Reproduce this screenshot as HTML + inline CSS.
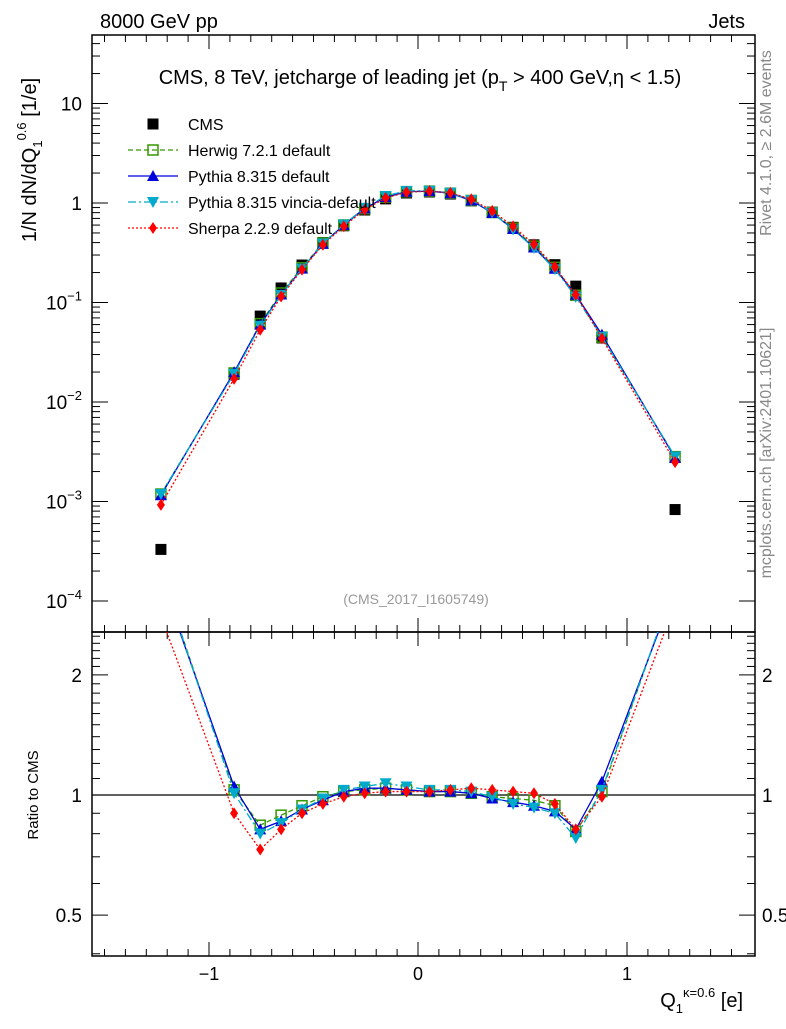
<!DOCTYPE html>
<html><head><meta charset="utf-8"><style>
body{margin:0;background:#fff;}
svg{font-family:"Liberation Sans","DejaVu Sans",sans-serif;}
</style></head><body>
<svg id="c" width="786" height="1024" xmlns="http://www.w3.org/2000/svg">
<text x="100" y="28" font-size="20">8000 GeV pp</text>
<text x="745" y="28" font-size="20" text-anchor="end">Jets</text>
<rect x="92" y="35" width="663" height="597" fill="none" stroke="#000" stroke-width="1.5"/>
<rect x="92" y="632" width="663" height="324" fill="none" stroke="#000" stroke-width="1.5"/>
<text x="420" y="84" font-size="20" text-anchor="middle">CMS, 8 TeV, jetcharge of leading jet (p<tspan font-size="14" dy="7">T</tspan><tspan dy="-7"> &gt; 400 GeV,η &lt; 1.5)</tspan></text>
<text x="416" y="604" font-size="14" fill="#999" text-anchor="middle">(CMS_2017_I1605749)</text>
<text transform="translate(771,143) rotate(-90)" font-size="16" fill="#888" text-anchor="middle">Rivet 4.1.0, ≥ 2.6M events</text>
<text transform="translate(771,453) rotate(-90)" font-size="16" fill="#888" text-anchor="middle">mcplots.cern.ch [arXiv:2401.10621]</text>
<text transform="translate(36,160) rotate(-90)" font-size="20" text-anchor="middle">1/N dN/dQ<tspan font-size="13" dy="6">1</tspan><tspan font-size="13" dy="-16">0.6</tspan><tspan dy="10"> [1/e]</tspan></text>
<text transform="translate(38,795) rotate(-90)" font-size="15" text-anchor="middle">Ratio to CMS</text>
<text x="743" y="1007" font-size="20" text-anchor="end">Q<tspan font-size="13" dy="6">1</tspan><tspan font-size="13" dy="-16">κ=0.6</tspan><tspan dy="10"> [e]</tspan></text>
<g id="ax"></g><g id="marks"></g><g id="leg"></g>
</svg>
<script>
const xs=[-1.23,-0.88,-0.755,-0.655,-0.555,-0.455,-0.355,-0.255,-0.155,-0.055,0.055,0.155,0.255,0.355,0.455,0.555,0.655,0.755,0.88,1.23];
const cms=[3.3e-4,0.0190,0.073,0.14,0.238,0.40,0.59,0.85,1.10,1.26,1.29,1.23,1.05,0.81,0.57,0.38,0.24,0.146,0.044,8.3e-4];
const rHerwig=[3.6,1.03,0.84,0.89,0.94,0.99,1.02,1.03,1.04,1.03,1.02,1.02,1.01,0.99,0.98,0.97,0.94,0.81,1.02,3.4];
const rPythia=[3.5,1.05,0.82,0.86,0.92,0.97,1.02,1.04,1.04,1.03,1.02,1.02,1.01,0.98,0.96,0.94,0.91,0.82,1.08,3.3];
const rVincia=[3.6,1.01,0.80,0.85,0.92,0.98,1.03,1.05,1.07,1.05,1.03,1.03,1.02,0.99,0.95,0.93,0.90,0.78,1.03,3.4];
const rSherpa=[2.8,0.90,0.73,0.82,0.90,0.95,0.99,1.01,1.02,1.02,1.02,1.03,1.04,1.03,1.02,1.01,0.95,0.82,0.99,3.0];
const xTicks=[-1,0,1];
const yTicks=[1e-4,1e-3,1e-2,1e-1,1,10];
const yTickLabels=["10^-4","10^-3","10^-2","10^-1","1","10"];
const rTicks=[0.5,1,2];
const NS="http://www.w3.org/2000/svg";
const X=v=>418+209*v;
const Y=v=>203-99.5*Math.log10(v);
const R=v=>795-399*Math.log10(v);
function mk(p,t,a){const e=document.createElementNS(NS,t);for(const k in a)e.setAttribute(k,a[k]);p.appendChild(e);return e;}
const ax=document.getElementById('ax'),mg=document.getElementById('marks'),lg=document.getElementById('leg');
const defs=mk(document.getElementById('c'),'defs',{});
const c1=mk(defs,'clipPath',{id:'cm'});mk(c1,'rect',{x:92,y:35,width:663,height:597});
const c2=mk(defs,'clipPath',{id:'cr'});mk(c2,'rect',{x:92,y:632,width:663,height:324});
for(let v=-1.5;v<=1.6;v+=0.1){const x=X(v);const maj=Math.abs(Math.round(v)-v)<1e-6;const L=maj?14:7;
 for(const [yb,yt] of [[632,35],[956,632]]){let e=mk(ax,'line',{x1:x,x2:x,y1:yb,y2:yb-L,stroke:'#000'});
 e=mk(ax,'line',{x1:x,x2:x,y1:yt,y2:yt+L,stroke:'#000'});}}
xTicks.forEach(v=>{const t=mk(ax,'text',{x:X(v),y:980,'font-size':18,'text-anchor':'middle'});t.textContent=v<0?'−'+(-v):String(v);
 });
yTicks.forEach((v,i)=>{const y=Y(v);
 for(const [x0,d] of [[92,1],[755,-1]]){const e=mk(ax,'line',{x1:x0,x2:x0+d*16,y1:y,y2:y,stroke:'#000'});}
 for(let m=2;m<10;m++){const yy=Y(v*m);if(yy<35)continue;for(const [x0,d] of [[92,1],[755,-1]]){const e=mk(ax,'line',{x1:x0,x2:x0+d*8,y1:yy,y2:yy,stroke:'#000'});}}
 const t=mk(ax,'text',{x:82,y:y+7,'font-size':19,'text-anchor':'end'});
 const s=yTickLabels[i];
 if(s.indexOf('^')>0){const p=s.split('^');t.textContent=p[0];const ts=mk(t,'tspan',{dy:-9,'font-size':13});ts.textContent=p[1].replace('-','−');}else t.textContent=s;
 });
for(let v=0.4;v<2.6;v+=0.1){const y=R(v);if(y<632||y>956)continue;const maj=rTicks.some(r=>Math.abs(r-v)<1e-6);
 for(const [x0,d] of [[92,1],[755,-1]]){const e=mk(ax,'line',{x1:x0,x2:x0+d*(maj?16:8),y1:y,y2:y,stroke:'#000'});}}
rTicks.forEach(v=>{for(const [x0,a] of [[82,'end'],[762,'start']]){const t=mk(ax,'text',{x:x0,y:R(v)+7,'font-size':19,'text-anchor':a});t.textContent=String(v);}});
let e=mk(ax,'line',{x1:92,x2:755,y1:R(1),y2:R(1),stroke:'#000','stroke-width':1.2});
const series=[
 {n:'herwig',lab:'Herwig 7.2.1 default',r:rHerwig,c:'#339900',d:'5,3',m:'sq-open'},
 {n:'pythia',lab:'Pythia 8.315 default',r:rPythia,c:'#0000dd',d:'',m:'tri-up'},
 {n:'vincia',lab:'Pythia 8.315 vincia-default',r:rVincia,c:'#00aacc',d:'8,3,2,3',m:'tri-down'},
 {n:'sherpa',lab:'Sherpa 2.2.9 default',r:rSherpa,c:'#ff0000',d:'2,2',m:'diamond'}];
function marker(g,m,x,y,c){let el;
 if(m==='sq-open')el=mk(g,'rect',{x:x-5,y:y-5,width:10,height:10,fill:'none',stroke:c,'stroke-width':1.5});
 else if(m==='tri-up')el=mk(g,'polygon',{points:`${x},${y-6} ${x-6},${y+5} ${x+6},${y+5}`,fill:c});
 else if(m==='tri-down')el=mk(g,'polygon',{points:`${x},${y+6} ${x-6},${y-5} ${x+6},${y-5}`,fill:c});
 else if(m==='diamond')el=mk(g,'polygon',{points:`${x},${y-6} ${x-4},${y} ${x},${y+6} ${x+4},${y}`,fill:c});
 else el=mk(g,'rect',{x:x-5.5,y:y-5.5,width:11,height:11,fill:c});
 return el;}
const gc=mk(mg,'g',{'clip-path':'url(#cm)'});
xs.forEach((x,i)=>{const p=marker(gc,'sq',X(x),Y(cms[i]),'#000');});
series.forEach(s=>{
 const vals=s.r.map((r,i)=>r*cms[i]);
 const gm=mk(mg,'g',{'clip-path':'url(#cm)'});
 const l=mk(gm,'polyline',{points:xs.map((x,i)=>X(x)+','+Y(vals[i])).join(' '),fill:'none',stroke:s.c,'stroke-width':1.3,'stroke-dasharray':s.d});
 
 xs.forEach((x,i)=>{const p=marker(gm,s.m,X(x),Y(vals[i]),s.c);});
 const gr=mk(mg,'g',{'clip-path':'url(#cr)'});
 const l2=mk(gr,'polyline',{points:xs.map((x,i)=>X(x)+','+R(s.r[i])).join(' '),fill:'none',stroke:s.c,'stroke-width':1.3,'stroke-dasharray':s.d});
 
 xs.forEach((x,i)=>{const p=marker(gr,s.m,X(x),R(s.r[i]),s.c);});
});
const ly=[124,150,176,202,228];
let g=mk(lg,'g',{});
marker(g,'sq',153,ly[0],'#000');let t=mk(g,'text',{x:188,y:ly[0]+6,'font-size':16});t.textContent='CMS';
series.forEach((s,i)=>{const g=mk(lg,'g',{});
 mk(g,'line',{x1:128,x2:178,y1:ly[i+1],y2:ly[i+1],stroke:s.c,'stroke-width':1.3,'stroke-dasharray':s.d});
 marker(g,s.m,153,ly[i+1],s.c);const t=mk(g,'text',{x:188,y:ly[i+1]+6,'font-size':16});t.textContent=s.lab;});
</script>
</body></html>
